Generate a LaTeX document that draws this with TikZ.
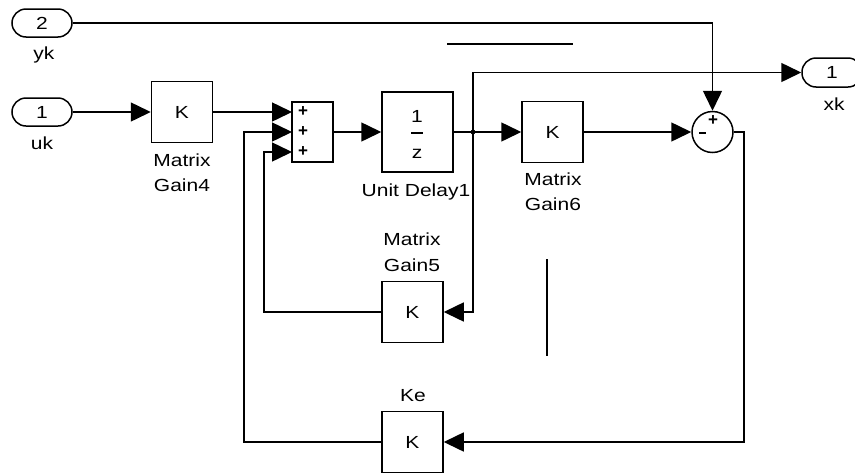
\documentclass[tikz,border=0pt]{standalone}
\usepackage{fontspec}
\setmainfont{Liberation Sans}
\newfontfamily\simfont[FakeStretch=1.2]{Liberation Sans}
\usetikzlibrary{arrows.meta}
\begin{document}
\begin{tikzpicture}[x=1pt,y=-1pt, line width=1.5pt,
  txt/.style={font=\simfont\fontsize{17.5}{20}\selectfont, inner sep=0pt},
  blk/.style={draw, txt, minimum width=61pt, minimum height=61pt, inner sep=0pt},
  port/.style={draw, txt, minimum width=60pt, minimum height=28pt, rounded corners=14pt, inner sep=0pt},
  lbl/.style={txt, anchor=base},
  sgn/.style={font=\bfseries\fontsize{17}{17}\selectfont, inner sep=0pt},
  sig/.style={-{Triangle[length=20pt,width=19pt]}},
  stray/.style={line width=2.2pt}
]
\clip (0,0) rectangle (855,472);
% ports
\node[port] (yk) at (42,23) {2};
\node[port] (uk) at (42,112) {1};
\node[port, minimum height=29pt] (xk) at (832,72.5) {1};
\node[lbl] (ykl) at (44,59.5) {yk};
\node[lbl] (ukl) at (42,149.5) {uk};
\node[lbl] (xkl) at (834,110) {xk};
% blocks
\node[blk] (g4) at (182,112) {K};
\node[lbl] (g4a) at (182,166.7) {Matrix};
\node[lbl] (g4b) at (182,191.7) {Gain4};
\node[draw, minimum width=41pt, minimum height=60pt, inner sep=0pt] (sum) at (312.5,132) {};
\node[sgn] (sp1) at (303,112) {+};
\node[sgn] (sp2) at (303,132) {+};
\node[sgn] (sp3) at (303,152) {+};
\node[draw, minimum width=71pt, minimum height=80pt, inner sep=0pt] (ud) at (417.5,132) {};
\node[txt] (udn) at (417,116) {1};
\node[txt] (udd) at (417,154) {z};
\draw (411,133) -- (423,133);
\node[lbl] (udl) at (416,196) {Unit Delay1};
\node[blk] (g6) at (552.5,132) {K};
\node[lbl] (g6a) at (553,185) {Matrix};
\node[lbl] (g6b) at (553,210) {Gain6};
\node[draw, circle, minimum size=41pt, inner sep=0pt] (cir) at (712.5,132) {};
\node[sgn] (cp) at (713,121) {+};
\node[sgn] (cm) at (702.5,133) {\rule{7pt}{1.8pt}};
\node[blk] (g5) at (412.5,312) {K};
\node[lbl] (g5a) at (412,245.7) {Matrix};
\node[lbl] (g5b) at (412,271.7) {Gain5};
\node[blk] (ke) at (412.5,442) {K};
\node[lbl] (kel) at (413,401.7) {Ke};
% coordinates
\coordinate (in1) at (292,112);
\coordinate (in2) at (292,132);
\coordinate (in3) at (292,152);
\coordinate (jn) at (473,132);
% connectors
\draw[sig] (uk.east) -- (g4.west);
\draw[sig] (g4.east) -- (in1);
\draw[sig] (sum.east) -- (ud.west);
\draw[sig] (ud.east) -- (g6.west);
\fill (jn) circle (2.4pt);
\draw[sig] (jn) |- (xk.west);
\draw[sig] (jn) |- (g5.east);
\draw[sig] (g5.west) -| (264,152) -- (in3);
\draw[sig] (ke.west) -| (244,132) -- (in2);
\draw[sig] (g6.east) -- (cir.west);
\draw[sig] (yk.east) -| (cir.north);
\draw[sig] (cir.east) -| (744,442) -- (ke.east);
% stray marks
\draw[stray] (447,44) -- (573,44);
\draw[stray] (547,259) -- (547,356);
\end{tikzpicture}
\end{document}
